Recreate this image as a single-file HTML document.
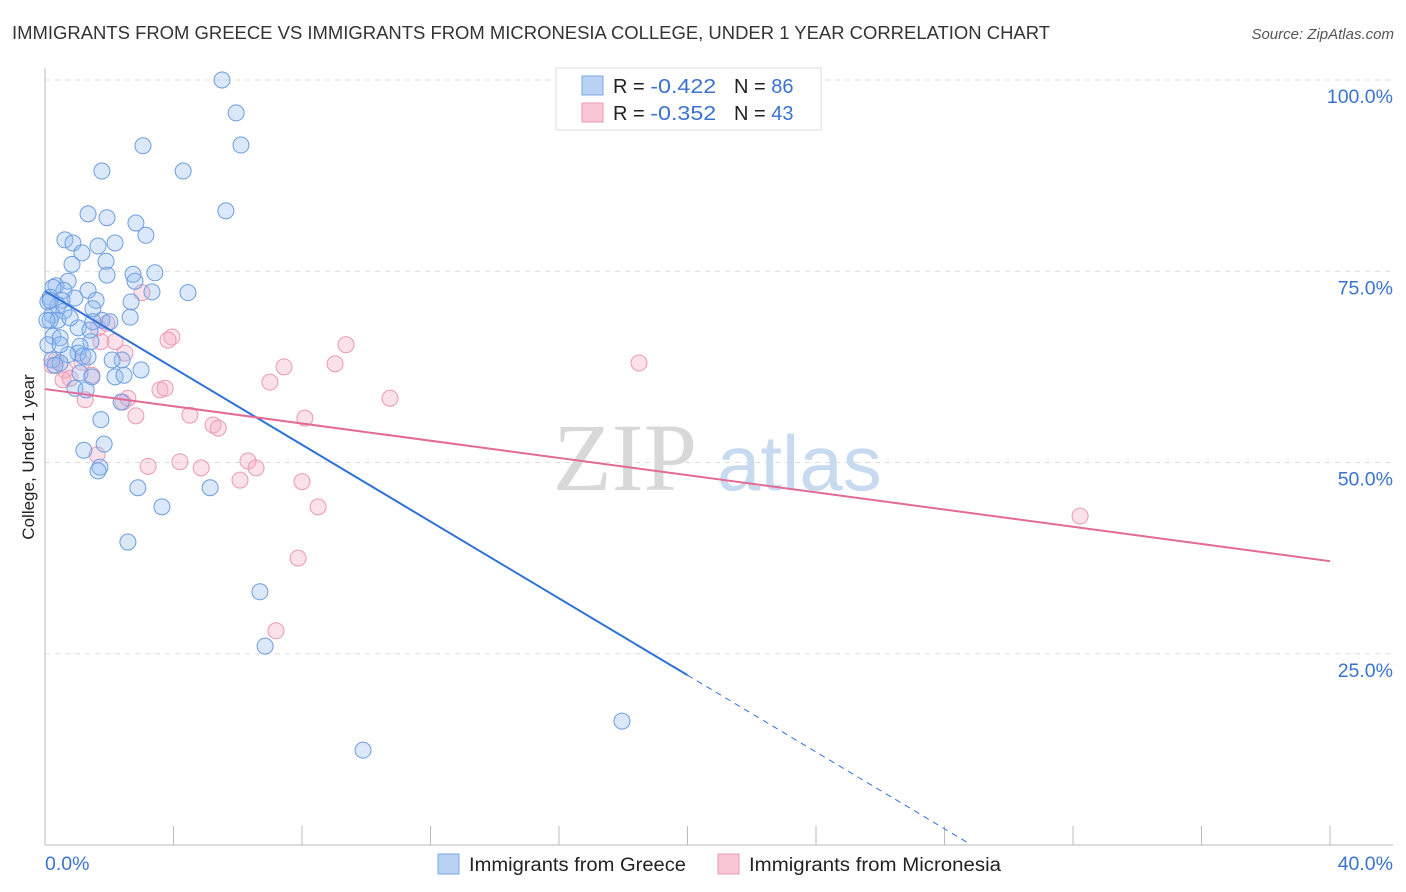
<!DOCTYPE html>
<html><head><meta charset="utf-8">
<style>
body{margin:0;background:#fff;font-family:"Liberation Sans",sans-serif;}
#wrap{position:relative;width:1406px;height:892px;overflow:hidden;}
</style></head>
<body>
<div id="wrap">
<svg id="chart" width="1406" height="892" xmlns="http://www.w3.org/2000/svg">
<text x="12" y="39" font-size="18" fill="#333" textLength="1038" lengthAdjust="spacingAndGlyphs">IMMIGRANTS FROM GREECE VS IMMIGRANTS FROM MICRONESIA COLLEGE, UNDER 1 YEAR CORRELATION CHART</text>
<text x="1394" y="39" font-size="15" fill="#555" font-style="italic" text-anchor="end">Source: ZipAtlas.com</text>
<g id="grid"></g>
<g>
<text x="553" y="490" font-size="96" fill="#d8d8d8" font-family="Liberation Serif,serif">ZIP</text>
<text x="717" y="490" font-size="78" fill="#c8daf0">atlas</text>
</g>
<g id="axes"></g>
<g id="marks"></g>
<text transform="translate(34,457) rotate(-90)" font-size="17" fill="#222" text-anchor="middle">College, Under 1 year</text>
<g>
<rect x="556" y="68" width="265" height="62" fill="#fff" stroke="#ddd"/>
<rect x="582" y="76" width="21" height="19" fill="#b8d3f5" stroke="#7aa8e6"/>
<text x="613" y="93" font-size="20" fill="#222">R = <tspan fill="#3b73d0" textLength="66" lengthAdjust="spacingAndGlyphs">-0.422</tspan></text>
<text x="734" y="93" font-size="20" fill="#222">N = <tspan fill="#3b73d0">86</tspan></text>
<rect x="582" y="103" width="21" height="19" fill="#f9c6d5" stroke="#eb9ab4"/>
<text x="613" y="120" font-size="20" fill="#222">R = <tspan fill="#3b73d0" textLength="66" lengthAdjust="spacingAndGlyphs">-0.352</tspan></text>
<text x="734" y="120" font-size="20" fill="#222">N = <tspan fill="#3b73d0">43</tspan></text>
</g>
<g>
<rect x="438" y="854" width="21" height="20" fill="#b8d3f5" stroke="#7aa8e6"/>
<text x="469" y="871" font-size="19" fill="#222" textLength="217" lengthAdjust="spacingAndGlyphs">Immigrants from Greece</text>
<rect x="718" y="854" width="21" height="20" fill="#f9c6d5" stroke="#eb9ab4"/>
<text x="749" y="871" font-size="19" fill="#222" textLength="252" lengthAdjust="spacingAndGlyphs">Immigrants from Micronesia</text>
</g>
</svg>
</div>
<script>
const xTicks=[0,4,8,12,16,20,24,28,32,36,40];
const yTicks=[25,50,75,100];
const greeceX=[5.51,5.95,3.05,6.10,1.77,4.30,5.63,1.34,1.93,2.83,3.14,0.62,0.87,1.65,2.18,1.15,0.84,1.90,1.93,2.74,3.42,0.72,2.80,0.34,0.59,0.25,1.34,3.33,4.45,0.16,0.93,0.53,1.59,2.68,0.40,1.49,0.59,0.22,2.65,0.16,0.40,1.77,2.02,1.49,1.03,0.25,0.47,1.43,1.09,1.03,0.72,1.18,1.34,0.22,2.40,0.47,2.99,1.09,2.18,2.46,1.46,0.93,1.28,2.37,1.74,1.21,1.84,1.71,1.65,2.89,5.14,3.64,2.58,6.69,6.85,17.96,9.90,0.09,0.09,0.16,0.06,0.31,1.40,0.78,2.09,0.47];
const greeceY=[100.0,95.7,91.4,91.5,88.1,88.1,82.9,82.5,82.0,81.3,79.7,79.1,78.7,78.3,78.7,77.4,75.9,76.3,74.5,74.6,74.8,73.7,73.7,73.1,72.5,72.9,72.5,72.3,72.2,71.6,71.5,71.2,71.2,71.0,70.5,70.1,69.8,69.3,69.0,68.6,68.6,68.6,68.4,68.4,67.6,66.5,66.3,65.8,65.2,64.3,64.1,63.9,63.8,63.4,63.4,63.0,62.1,61.7,61.2,61.4,61.2,59.7,59.5,57.9,55.6,51.6,52.4,49.4,48.9,46.7,46.7,44.2,39.6,33.1,26.0,16.2,12.4,65.4,71.0,71.2,68.6,62.7,67.3,68.9,63.4,65.4];
const micronesiaX=[3.02,3.95,3.83,9.37,7.44,9.03,18.49,2.49,2.18,1.74,1.93,1.65,7.00,10.74,0.34,0.62,0.78,0.56,1.25,2.43,2.58,3.58,3.74,2.83,4.51,8.09,5.23,5.39,1.62,3.21,4.20,4.86,6.32,6.57,6.07,8.00,8.50,32.22,7.88,7.19,1.46,1.15,0.22];
const micronesiaY=[72.2,66.4,66.0,65.4,62.5,62.9,63.0,64.3,65.8,65.8,68.2,67.6,60.5,58.4,63.4,62.1,61.0,60.8,58.2,57.9,58.4,59.5,59.7,56.1,56.2,55.8,54.9,54.5,51.0,49.5,50.1,49.3,50.2,49.3,47.7,47.5,44.2,43.0,37.5,28.0,61.4,63.1,62.7];
const greeceTrend=[72.4,-2.51];   // intercept, slope
const greeceTrendEnd=[20,28.8];   // solid end x, dashed end x
const micronesiaTrend=[59.6,-0.5625];
const micronesiaTrendEnd=[40];

const NS="http://www.w3.org/2000/svg";
const X0=45,X1=1330,YB=845,YT=80;
function sx(v){return X0+(v/40)*(X1-X0);}
function sy(v){return YB-(v/100)*(YB-YT);}
function mk(tag,attrs,parent){const e=document.createElementNS(NS,tag);for(const k in attrs)e.setAttribute(k,attrs[k]);parent.appendChild(e);return e;}

const grid=document.getElementById('grid');
yTicks.forEach(t=>{
  const l=mk('line',{x1:X0,x2:1393,y1:sy(t),y2:sy(t),stroke:'#ddd','stroke-dasharray':'5,5'},grid);
  
  
  const tx=mk('text',{x:1393,y:sy(t)+23,'font-size':19.5,fill:'#3b73d0','text-anchor':'end'},grid);
  tx.textContent=t.toFixed(1)+'%';
  
  
});
const axes=document.getElementById('axes');
let a=mk('line',{x1:X0,x2:X0,y1:68,y2:YB,stroke:'#bbb'},axes);


a=mk('line',{x1:X0,x2:1393,y1:YB,y2:YB,stroke:'#bbb'},axes);


xTicks.forEach(t=>{
  if(t===0)return;
  const l=mk('line',{x1:sx(t),x2:sx(t),y1:826,y2:YB,stroke:'#bbb'},axes);
  
  
});
[[0,'start',45],[40,'end',1393]].forEach(([t,anc,px])=>{
  const tx=mk('text',{x:px,y:870,'font-size':19.5,fill:'#3b73d0','text-anchor':anc},axes);
  tx.textContent=t.toFixed(1)+'%';
  
  
});

const marks=document.getElementById('marks');
micronesiaX.forEach((x,i)=>{
  const c=mk('circle',{cx:sx(x),cy:sy(micronesiaY[i]),r:8,fill:'rgba(244,170,195,0.35)',stroke:'#eb9ab4','stroke-width':1},marks);
  
  
});
greeceX.forEach((x,i)=>{
  const c=mk('circle',{cx:sx(x),cy:sy(greeceY[i]),r:8,fill:'rgba(150,190,240,0.35)',stroke:'#6d9de0','stroke-width':1},marks);
  
  
});
function ty(tr,x){return tr[0]+tr[1]*x;}
let ln=mk('line',{x1:sx(0),y1:sy(ty(greeceTrend,0)),x2:sx(greeceTrendEnd[0]),y2:sy(ty(greeceTrend,greeceTrendEnd[0])),stroke:'#2f72d8','stroke-width':2},marks);


ln=mk('line',{x1:sx(greeceTrendEnd[0]),y1:sy(ty(greeceTrend,greeceTrendEnd[0])),x2:sx(greeceTrendEnd[1]),y2:sy(ty(greeceTrend,greeceTrendEnd[1])),stroke:'#2f72d8','stroke-width':1,'stroke-dasharray':'6,5'},marks);


ln=mk('line',{x1:sx(0),y1:sy(ty(micronesiaTrend,0)),x2:sx(micronesiaTrendEnd[0]),y2:sy(ty(micronesiaTrend,micronesiaTrendEnd[0])),stroke:'#e46a96','stroke-width':2},marks);


</script>
</body></html>
